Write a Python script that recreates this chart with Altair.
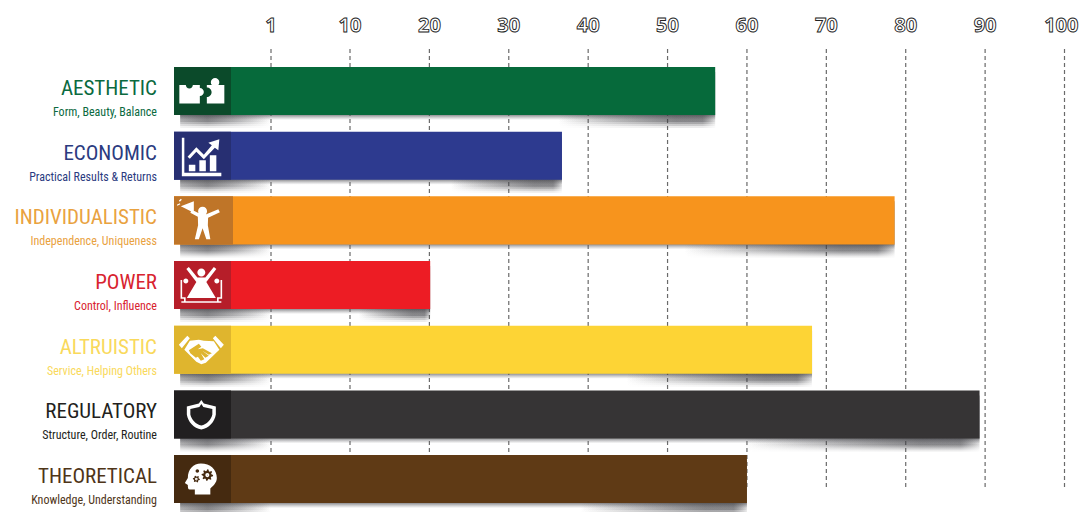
import math
import altair as alt
import pandas as pd

names = ["AESTHETIC", "ECONOMIC", "INDIVIDUALISTIC", "POWER", "ALTRUISTIC", "REGULATORY", "THEORETICAL"]
subs = ["Form, Beauty, Balance", "Practical Results & Returns", "Independence, Uniqueness",
        "Control, Influence", "Service, Helping Others", "Structure, Order, Routine", "Knowledge, Understanding"]
values = [56, 36.7, 78.6, 20.1, 68.2, 89.3, 60]
band_end = [-3.54, -3.54, -3.31, -3.54, -3.54, -3.54, -3.54]
main_col = ["#066a3b", "#2d3a8f", "#f7941d", "#ed1c24", "#fdd435", "#363435", "#5f3a15"]
dark_col = ["#0b4a2a", "#272f72", "#bf7528", "#b61e29", "#dfb52e", "#211f20", "#452a10"]
text_col = ["#0b6a3f", "#2b3b80", "#e9a23f", "#d8232f", "#f9d95c", "#231f20", "#4f3518"]
ticks = [1, 10, 20, 30, 40, 50, 60, 70, 80, 90, 100]
tick_label_pos = [1, 10, 20, 30, 40, 50, 60, 70, 80, 90, 99.6]


def gear(cx, cy, r, n=8):
    pts = []
    for i in range(n * 4):
        a = 2 * math.pi * i / (n * 4)
        rad = r if i % 4 < 2 else r * 0.72
        pts.append(f"{cx + rad * math.cos(a):.3f} {cy + rad * math.sin(a):.3f}")
    return "M" + "L".join(pts) + "Z"


def dot(cx, cy, r):
    return f"M{cx - r} {cy}A{r} {r} 0 1 1 {cx + r} {cy}A{r} {r} 0 1 1 {cx - r} {cy}Z"


icon_fill = [
    "M-.88 -.24H-.62A.14 .14 0 0 0 -.34 -.24H-.06V-.12A.16 .16 0 1 1 -.06 .2V.5H-.88Z M.22 -.24H.42A.17 .17 0 1 1 .68 -.24H.92V.5H.22V.24A.18 .18 0 0 0 .22 -.14Z",
    "M-.78 -.72H-.68V.68H.8V.82H-.78Z M-.5 .36H-.24V.62H-.5Z M-.08 .18H.18V.62H-.08Z M.34 -.02H.6V.62H.34Z M-.55 .04L-.2 -.34L.1 -.04L.42 -.42L.28 -.52L.72 -.66L.68 -.22L.54 -.32L.1 .14L-.2 -.16L-.46 .12Z",
    "M-.13 -.36A.18 .18 0 1 1 .23 -.36A.18 .18 0 1 1 -.13 -.36Z M-.14 -.14L-.44 -.3L-.38 -.42L-.02 -.24H.2L.68 -.44L.74 -.32L.27 -.1L.26 .2L.36 .76H.2L.05 .32L-.1 .76H-.26L-.13 .2Z M-.82 -.56L-.3 -.76L-.3 -.3Z M-.98 -.62L-.86 -.68L-.84 -.64L-.96 -.58Z M-.9 -.78L-.82 -.86L-.78 -.82L-.86 -.74Z",
    "M-.16 -.5A.16 .16 0 1 1 .16 -.5A.16 .16 0 1 1 -.16 -.5Z M-.16 -.3H.16L.5 -.72L.6 -.64L.2 -.12L.58 .52H-.58L-.2 -.12L-.6 -.64L-.5 -.72Z M-.72 -.16A.1 .1 0 1 1 -.52 -.16A.1 .1 0 1 1 -.72 -.16Z M.52 -.16A.1 .1 0 1 1 .72 -.16A.1 .1 0 1 1 .52 -.16Z",
    "M-.9 -.2L-.56 -.56L-.46 -.46L-.78 -.06Z M.9 -.2L.56 -.56L.46 -.46L.78 -.06Z M-.68 .0L-.46 -.36L-.1 -.4L.1 -.36L.5 -.34L.72 .0L.18 .52L.0 .58L-.2 .48Z",
    "M0 -.58L.1 -.44L.58 -.32V0A.72 .72 0 0 1 0 .6A.72 .72 0 0 1 -.58 0V-.32L-.1 -.44Z",
    "M-.02 -.62C.36 -.62 .62 -.38 .62 -.04C.62 .16 .46 .28 .36 .38V.62H-.26V.42H-.46C-.54 .42 -.54 .34 -.54 .24L-.66 .16L-.54 -.04C-.54 -.4 -.32 -.62 -.02 -.62Z",
]
icon_cut = [
    "M0 0", "M0 0", "M0 0", "M0 0",
    "M-.5 .02L-.1 -.24L.0 -.12L-.14 -.02L.06 -.06L.42 .14L.3 .2L.04 .04L.3 .24L.16 .32L-.02 .14L.12 .38L-.02 .44L-.14 .28L-.22 .32L-.44 .14Z",
    "M0 -.42L.08 -.3L.44 -.22V0A.58 .58 0 0 1 0 .44A.58 .58 0 0 1 -.44 0V-.22L-.08 -.3Z",
    gear(.24, -.16, .23) + " " + gear(-.2, .0, .14, 6) + " " + dot(-.16, -.32, .07),
]
icon_line = [
    "M0 0", "M0 0", "M0 0",
    "M-.8 -.2V.52H-.66V.68 M.8 -.2V.52H.66V.68 M-.8 .68H.8",
    "M0 0", "M0 0",
    dot(.24, -.16, .05) + " " + dot(-.2, .0, .02),
]

base = -10
center = -6.9

df = pd.DataFrame({
    "name": names, "sub": subs, "value": values, "band_end": band_end,
    "main": main_col, "dark": dark_col, "tc": text_col,
    "fill_path": icon_fill, "line_path": icon_line, "cut_path": icon_cut,
})
df["base"] = base
df["center"] = center
df["shadow_start"] = base + 0.7
df["left_end"] = base + 11
df["right_start"] = df["value"] - (df["value"] + 10) * 0.3
tick_df = pd.DataFrame({"tick": ticks, "pos": tick_label_pos, "label": [str(t) for t in ticks]})

x_scale = alt.Scale(domain=[-10, 1, 10, 100], range=[0, 97, 176, 890.5])
y_scale = alt.Scale(domain=names, range=[9.7, 462.4], paddingInner=0.257, paddingOuter=0.128)
X = lambda f: alt.X(f, type="quantitative", scale=x_scale, axis=None)
Y = alt.Y("name:N", scale=y_scale, axis=None, sort=names)

grid = alt.Chart(tick_df).mark_rule(color="#6a6a6a", strokeWidth=1.2, strokeDash=[4, 3]).encode(
    x=X("tick"), y=alt.value(0), y2=alt.value(441))

tick_text = alt.Chart(tick_df).mark_text(
    font="Open Sans", fontSize=20, fontWeight="bold", fill="white", stroke="#222222", strokeWidth=0.9,
    align="center", baseline="middle"
).encode(x=X("pos"), y=alt.value(-23), text="label:N")


def hgrad(stops):
    return alt.Gradient(gradient="linear", x1=0, y1=0, x2=1, y2=0,
                        stops=[alt.GradientStop(offset=o, color=f"rgba(60,60,65,{a})") for o, a in stops])


shadows = [alt.Chart(df).mark_bar(
    yOffset=5,
    fill=alt.Gradient(gradient="linear", x1=0, y1=0, x2=0, y2=1, stops=[
        alt.GradientStop(offset=0, color="rgba(80,80,85,0.6)"),
        alt.GradientStop(offset=0.9, color="rgba(80,80,85,0.6)"),
        alt.GradientStop(offset=1, color="rgba(120,120,125,0)"),
    ])
).encode(x=X("shadow_start"), x2="value:Q", y=Y)]
for off, scale in [(7, 0.3), (9, 0.25), (11, 0.18), (13, 0.1)]:
    shadows.append(alt.Chart(df).mark_bar(
        yOffset=off, fill=hgrad([(0, 0), (0.75, scale), (0.92, scale), (1, scale * 0.2)])
    ).encode(x=X("right_start"), x2="value:Q", y=Y))
    shadows.append(alt.Chart(df).mark_bar(
        yOffset=off, fill=hgrad([(0, scale * 0.6), (0.3, scale), (1, 0)])
    ).encode(x=X("shadow_start"), x2="left_end:Q", y=Y))

bars = alt.Chart(df).mark_bar().encode(
    x=X("base"), x2="value:Q", y=Y, fill=alt.Fill("main:N", scale=None))
dark = alt.Chart(df).mark_bar().encode(
    x=X("base"), x2="band_end:Q", y=Y, fill=alt.Fill("dark:N", scale=None))

icons = alt.Chart(df).mark_point(filled=True, fill="white", stroke=None, opacity=1, size=2500).encode(
    x=X("center"), y=Y, shape=alt.Shape("fill_path:N", scale=None))
cuts = alt.Chart(df).mark_point(filled=True, stroke=None, opacity=1, size=2500).encode(
    x=X("center"), y=Y, shape=alt.Shape("cut_path:N", scale=None), fill=alt.Fill("dark:N", scale=None))
lines = alt.Chart(df).mark_point(filled=False, stroke="white", strokeWidth=1.6, opacity=1, size=2500).encode(
    x=X("center"), y=Y, shape=alt.Shape("line_path:N", scale=None))

FONT = "Roboto Condensed, DejaVu Sans Condensed, Liberation Sans Narrow, Arial Narrow, Roboto"
title = alt.Chart(df).mark_text(
    font=FONT, fontSize=21, align="right", baseline="middle", dx=-17, dy=-2
).encode(x=X("base"), y=Y, text="name:N", fill=alt.Fill("tc:N", scale=None))
subtitle = alt.Chart(df).mark_text(
    font=FONT, fontSize=12, align="right", baseline="middle", dx=-17, dy=21
).encode(x=X("base"), y=Y, text="sub:N", fill=alt.Fill("tc:N", scale=None))

chart = alt.layer(grid, tick_text, *shadows, bars, dark, icons, cuts, lines, title, subtitle).properties(
    width=891, height=461,
    autosize=alt.AutoSizeParams(type="none"),
    padding={"left": 166, "top": 41, "right": 14, "bottom": 2},
    background="white",
).configure_view(stroke=None)

chart.save("out.html", embed_options={"renderer": "svg", "actions": False})
